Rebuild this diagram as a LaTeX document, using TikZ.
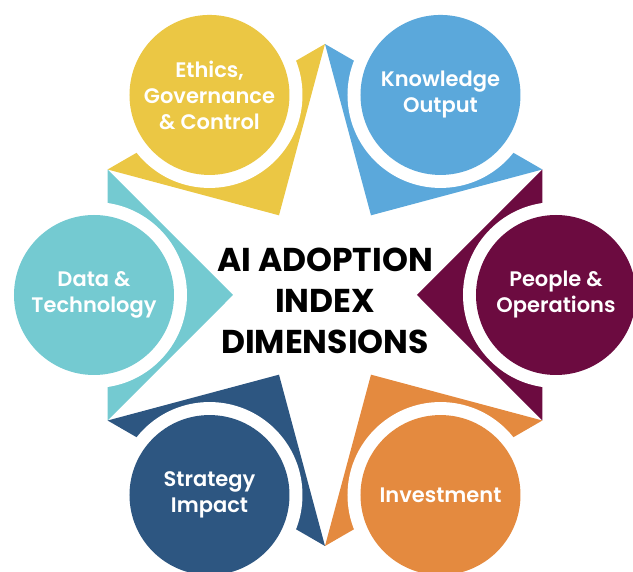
\documentclass[tikz,border=0pt]{standalone}
\usepackage{fontspec}
\setmainfont{Poppins}
\newfontfamily\labelfont{Poppins SemiBold}
\definecolor{ethicsc}{HTML}{EBC744}
\definecolor{knowc}{HTML}{5BA8DB}
\definecolor{peoplec}{HTML}{6C0B40}
\definecolor{investc}{HTML}{E48A3F}
\definecolor{stratc}{HTML}{2D5681}
\definecolor{datac}{HTML}{74CAD1}

\begin{document}
\begin{tikzpicture}[x=1pt,y=1pt,dim/.style={circle,minimum size=160pt,inner sep=0pt,text=white,align=center,font=\labelfont\fontsize{21}{26}\selectfont},gap/.style={fill=white},title/.style={align=center,font=\bfseries\fontsize{33}{41}\selectfont}]
\useasboundingbox (-325,-277) rectangle (308,295);
% wedges of the star
\fill[ethicsc] (90:251)--(120:92)--(150:251)--cycle; \fill[gap] (120:231) circle (93);
\fill[knowc] (30:251)--(60:92)--(90:251)--cycle; \fill[gap] (60:231) circle (93);
\fill[peoplec] (-30:251)--(0:92)--(30:251)--cycle; \fill[gap] (0:231) circle (93);
\fill[investc] (-90:251)--(-60:92)--(-30:251)--cycle; \fill[gap] (-60:231) circle (93);
\fill[stratc] (-150:251)--(-120:92)--(-90:251)--cycle; \fill[gap] (-120:231) circle (93);
\fill[datac] (150:251)--(180:92)--(210:251)--cycle; \fill[gap] (180:231) circle (93);
% dimension circles
\node[dim,fill=ethicsc] (ethics) at (120:231) {Ethics,\\Governance\\\& Control};
\node[dim,fill=knowc] (know) at (60:231) {Knowledge\\Output};
\node[dim,fill=peoplec] (people) at (0:231) {People \&\\Operations};
\node[dim,fill=investc] (invest) at (-60:231) {Investment};
\node[dim,fill=stratc] (strat) at (-120:231) {Strategy\\Impact};
\node[dim,fill=datac] (data) at (180:231) {Data \&\\Technology};
\node[title] (center) at (0,-6) {AI ADOPTION\\INDEX\\DIMENSIONS};
\end{tikzpicture}
\end{document}
